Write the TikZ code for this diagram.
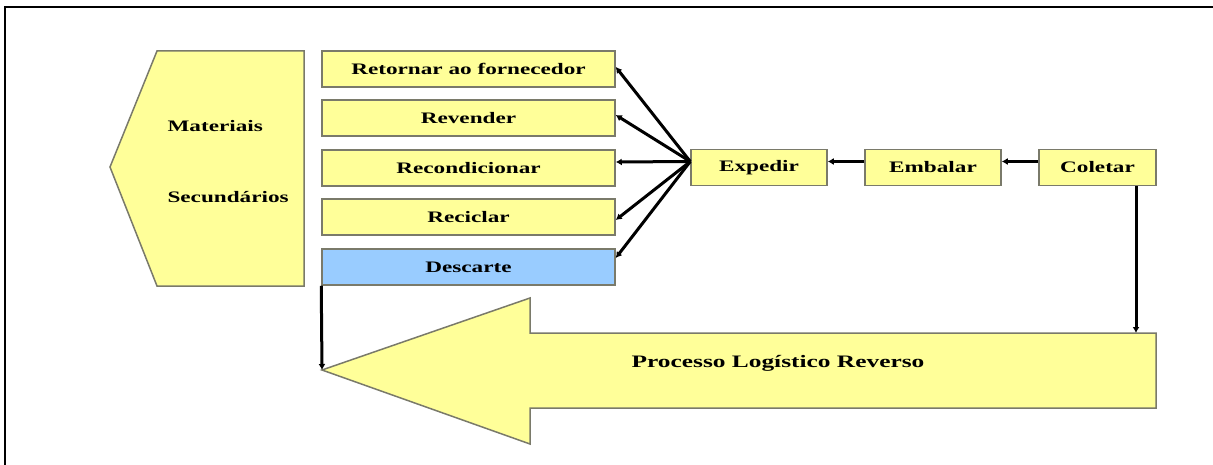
\documentclass[tikz,border=0pt]{standalone}
\usepackage{fontspec}
\newfontfamily\figfont{Liberation Serif}[FakeStretch=1.45]
\usepackage{tikz}
\usetikzlibrary{arrows.meta}
\usetikzlibrary{positioning}

\definecolor{boxyellow}{HTML}{FFFF99}
\definecolor{boxblue}{HTML}{99CCFF}
\definecolor{edgegray}{HTML}{7A7A6A}

\begin{document}
\begin{tikzpicture}
    [x=1pt, y=-1pt,
     every node/.style={font=\figfont\bfseries\fontsize{16}{18}\selectfont},
     stage/.style={draw=edgegray, line width=1.5pt, fill=boxyellow, rectangle,
       inner sep=0pt, minimum height=36pt},
     dest/.style={stage, minimum width=293pt},
     flow/.style={draw, line width=3pt, -{Latex[length=6pt,width=7pt]}}]
    \useasboundingbox (0,0) rectangle (1213,465);
    % frame
    \draw [line width=2pt] (5,465) -- (5,7) -- (1213,7);

    % materiais secundarios
    \draw [draw=edgegray, line width=1.5pt, fill=boxyellow]
      (110,167) -- (157,51) -- (304,51) -- (304,286) -- (157,286) -- cycle;
    \node (mat) [anchor=west] at (164,126) {Materiais};
    \node (sec) [anchor=west] at (164,197) {Secundários};

    % destinos
    \node (ret) [dest] at (468.5,69) {Retornar ao fornecedor};
    \node (rev) [dest] at (468.5,118) {Revender};
    \node (recd) [dest] at (468.5,168) {Recondicionar};
    \node (recc) [dest] at (468.5,217) {Reciclar};
    \node (desc) [dest, fill=boxblue] at (468.5,267) {Descarte};

    % etapas
    \node (exp) [stage, minimum width=136pt] at (759,167.5) {Expedir};
    \node (emb) [stage, minimum width=136pt] at (933,167.5) {Embalar};
    \node (col) [stage, minimum width=117pt] at (1097.5,167.5) {Coletar};

    % processo logistico reverso
    \draw [draw=edgegray, line width=1.5pt, fill=boxyellow]
      (322,370) -- (530,298) -- (530,333) -- (1156,333) -- (1156,408)
      -- (530,408) -- (530,444) -- cycle;
    \node (plr) [font=\figfont\bfseries\fontsize{17.5}{20}\selectfont]
      at (778,363) {Processo Logístico Reverso};
    \coordinate (tip) at (322,370);
    \coordinate (plrtop) at (1136,333);

    \coordinate (fan) at ([yshift=6pt]exp.west);
    \foreach \n/\s in {ret/2, rev/3, recd/6, recc/-3, desc/9}
      \draw [flow] (fan) -- ([yshift=\s pt]\n.east);
    \draw [flow] ([yshift=6pt]emb.west) -- ([yshift=6pt]exp.east);
    \draw [flow] ([yshift=6pt]col.west) -- ([yshift=6pt]emb.east);
    \draw [flow] (col.south -| plrtop) -- (plrtop);
    \draw [flow] (desc.south west) -- (tip);
\end{tikzpicture}
\end{document}
